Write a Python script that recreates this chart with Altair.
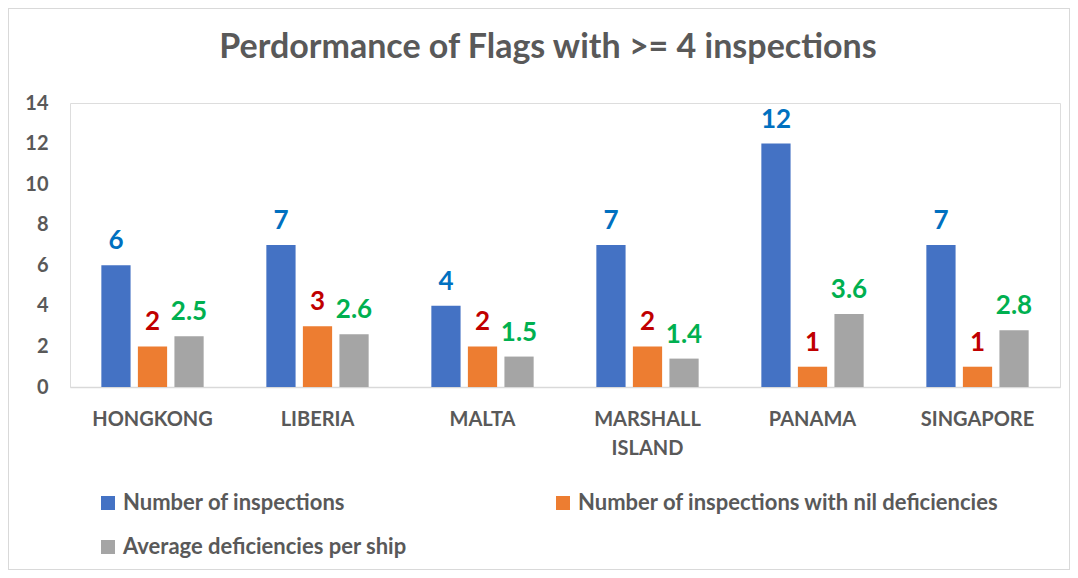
import altair as alt
import pandas as pd

categories = ["HONGKONG", "LIBERIA", "MALTA", "MARSHALL ISLAND", "PANAMA", "SINGAPORE"]
series = ["Number of inspections",
          "Number of inspections with nil deficiencies",
          "Average deficiencies per ship"]
inspections = [6, 7, 4, 7, 12, 7]
nil_deficiencies = [2, 3, 2, 2, 1, 1]
avg_deficiencies = [2.5, 2.6, 1.5, 1.4, 3.6, 2.8]
y_ticks = [0, 2, 4, 6, 8, 10, 12, 14]

bar_colors = ["#4472C4", "#ED7D31", "#A5A5A5"]
label_colors = ["#0070C0", "#C00000", "#00B050"]
FONT = "Lato"
GRAY = "#595959"

rows = []
for s, vals in zip(series, [inspections, nil_deficiencies, avg_deficiencies]):
    for c, v in zip(categories, vals):
        rows.append({"category": c, "series": s, "value": v})
df = pd.DataFrame(rows)

W, H = 990, 284

x_enc = alt.X("category:N", sort=categories,
              scale=alt.Scale(paddingInner=0.38, paddingOuter=0.19),
              axis=alt.Axis(title=None, labelAngle=0, labelExpr="split(datum.label, ' ')",
                            labelFont=FONT, labelFontSize=20, labelFontWeight="bold",
                            labelColor=GRAY, labelPadding=22, labelLineHeight=29,
                            ticks=False, domainColor="#D9D9D9", domainWidth=1.5))
xoff = alt.XOffset("series:N", sort=series,
                   scale=alt.Scale(domain=series, paddingInner=0.2, paddingOuter=0))
y_enc = alt.Y("value:Q", scale=alt.Scale(domain=[0, 14], nice=False),
              axis=alt.Axis(title=None, values=y_ticks, grid=False, domain=False, ticks=False,
                            labelFont=FONT, labelFontSize=20, labelFontWeight="bold",
                            labelColor=GRAY, labelPadding=22))

bars = alt.Chart(df).mark_bar().encode(
    x=x_enc, xOffset=xoff, y=y_enc,
    color=alt.Color("series:N", sort=series,
                    scale=alt.Scale(domain=series, range=bar_colors),
                    legend=alt.Legend(title=None, orient="none", legendX=27, legendY=389,
                                      values=[series[0], series[2], series[1]],
                                      columns=2, columnPadding=145, rowPadding=22,
                                      padding=0,
                                      symbolType="square",
                                      symbolSize=196, symbolStrokeWidth=0,
                                      labelFont=FONT, labelFontSize=22, labelFontWeight="bold",
                                      labelColor=GRAY, labelLimit=600, labelOffset=4)),
)

labels = alt.Chart(df).mark_text(baseline="bottom", dy=-11, font=FONT, fontSize=26,
                                 fontWeight="bold").encode(
    x=alt.X("category:N", sort=categories), xOffset=xoff,
    y=alt.Y("value:Q"),
    text=alt.Text("value:Q"),
    color=alt.Color("series:N", sort=series,
                    scale=alt.Scale(domain=series, range=label_colors), legend=None),
)

border = alt.Chart(df).mark_rect(fill=None, stroke="#D9D9D9", strokeWidth=1, clip=False).encode(
    x=alt.value(-61.5), x2=alt.value(W + 9.5), y=alt.value(-94.5), y2=alt.value(H + 182.5)
)

chart = alt.layer(border, bars, labels).resolve_scale(color="independent").properties(
    width=W, height=H,
    padding={"left": 62, "top": 95, "right": 10, "bottom": 183},
    autosize=alt.AutoSizeParams(type="none"),
    title=alt.TitleParams("Perdormance of Flags with >= 4 inspections",
                          font=FONT, fontSize=34, fontWeight="bold", color=GRAY,
                          anchor="middle", frame="group", offset=-57, dx=-17),
).configure_view(stroke=None).configure(background="white")

chart.save("out.html", embed_options={"renderer": "svg", "actions": False})
